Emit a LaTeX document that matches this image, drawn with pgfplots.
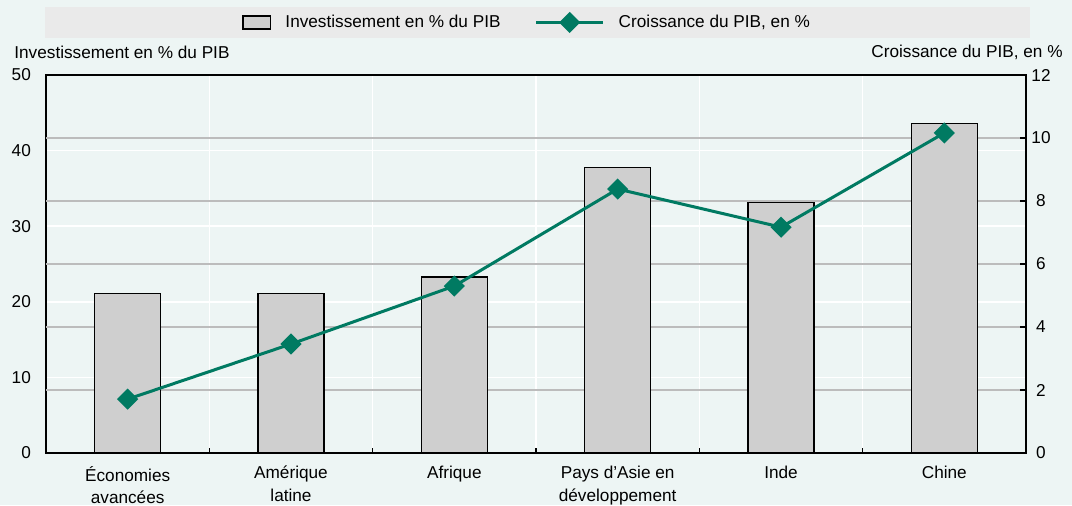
\documentclass[border=0pt]{standalone}
\usepackage{pgfplots}
\pgfplotsset{compat=1.18}
\usepackage{fontspec}
\setmainfont{Liberation Sans}
\definecolor{bgmint}{RGB}{237,245,244}
\definecolor{legendgrey}{RGB}{234,234,234}
\definecolor{barfill}{RGB}{207,207,207}
\definecolor{gridgrey}{RGB}{188,188,188}
\definecolor{linegreen}{RGB}{0,122,98}
\pgfplotsset{
    barlegend/.style={legend image code/.code={\draw[fill=barfill, draw=black, line width=0.6pt] (0cm,-0.115cm) rectangle (0.49cm,0.115cm);}},
    linelegend/.style={legend image code/.code={
        \draw[linegreen, line width=1.5pt] (0cm,0cm) -- (1.18cm,0cm);
        \draw[linegreen, fill=linegreen] plot[mark=square*, mark size=3pt, mark options={rotate=45}] coordinates {(0.59cm,0cm)};}},
}

\begin{document}
\fontsize{8.6}{11.3}\selectfont
\begin{tikzpicture}
\fill[bgmint] (-23pt,-26pt) rectangle (513pt,226.5pt);
\clip (-23pt,-26pt) rectangle (513pt,226.5pt);
\fill[legendgrey] (-0.5pt,207.5pt) rectangle (492pt,223pt);

% bars, left axis
\begin{axis}[
    width=490pt, height=189pt, scale only axis,
    xmin=-0.5, xmax=5.5, ymin=0, ymax=50,
    xtick={0,...,5},
    xticklabels={{Économies\\avancées},{Amérique\\latine},{Afrique},{Pays d’Asie en\\développement},{Inde},{Chine}},
    xticklabel style={align=center, yshift=-3.5pt},
    minor xtick={0.5,1.5,2.5,3.5,4.5}, xminorgrids,
    minor grid style={white, line width=0.8pt},
    ytick={0,10,...,50}, ymajorgrids,
    major grid style={white, line width=0.8pt},
    extra y ticks={8.3333,16.6667,25,33.3333,41.6667}, extra y tick labels={},
    extra y tick style={major grid style={gridgrey, line width=0.7pt}},
    major tick length=0pt, minor tick length=2.5pt, tick align=inside,
    xtick pos=bottom, ytick pos=left,
    tick style={black, line width=0.6pt},
    axis line style={black, line width=0.8pt},
    yticklabel style={xshift=-4.5pt},
    /pgf/number format/assume math mode=true,
]
\addplot[ybar, bar width=33pt, fill=barfill, draw=black, line width=0.65pt]
    coordinates {(0,21.1)(1,21.1)(2,23.3)(3,37.8)(4,33.1)(5,43.6)};
\end{axis}

% line, right axis
\begin{axis}[
    width=490pt, height=189pt, scale only axis,
    xmin=-0.5, xmax=5.5, ymin=0, ymax=12,
    ytick={0,2,...,12},
    axis y line*=right, axis x line=none,
    major tick length=3pt, tick align=inside,
    tick style={black, line width=0.6pt},
    axis line style={black, line width=0.8pt},
    yticklabel style={anchor=center, xshift=7.5pt},
    /pgf/number format/assume math mode=true,
    legend columns=2, legend cell align=left,
    legend style={at={(0.492,1.139)}, anchor=center, draw=none, fill=none,
        /tikz/every odd column/.append style={column sep=5pt},
        /tikz/every even column/.append style={column sep=15pt}},
]
\addlegendimage{barlegend}
\addlegendentry{Investissement en \% du PIB}
\addplot[color=linegreen, line width=1.5pt, mark=square*, mark size=3pt,
    mark options={fill=linegreen, solid, rotate=45}, linelegend]
    coordinates {(0,1.71)(1,3.46)(2,5.3)(3,8.38)(4,7.17)(5,10.16)};
\addlegendentry{Croissance du PIB, en \%}
\end{axis}

\node[anchor=west, inner sep=0pt] at (-16pt,200.5pt) {Investissement en \% du PIB};
\node[anchor=east, inner sep=0pt] at (508.5pt,200.5pt) {Croissance du PIB, en \%};
\end{tikzpicture}
\end{document}
